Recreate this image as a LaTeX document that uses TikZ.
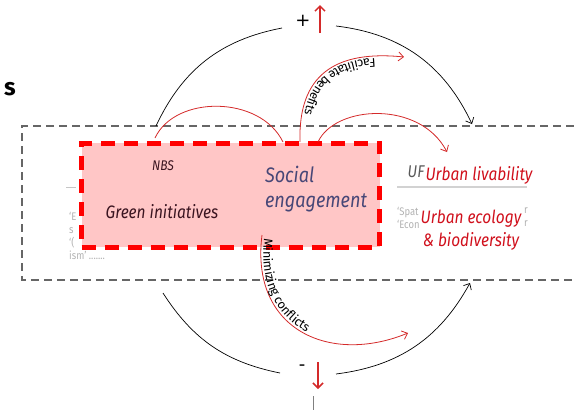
\documentclass[tikz,border=0pt]{standalone}
\usepackage{fontspec}
\setmainfont{Fira Sans}
\newfontfamily\slidefont[FakeStretch=0.86]{Fira Sans}
\newfontfamily\signfont{DejaVu Sans}
\usepackage{tikz}
\usetikzlibrary{arrows.meta,decorations.text}
\definecolor{boxred}{HTML}{FF0000}
\definecolor{boxpink}{HTML}{FFC6C6}
\definecolor{linkred}{HTML}{D42A2A}
\definecolor{outred}{HTML}{D0101C}
\definecolor{engblue}{HTML}{474777}
\definecolor{inidark}{HTML}{3A1420}
\definecolor{framegray}{HTML}{666666}
\newcommand{\linkfont}{\fontsize{12.5}{14}\selectfont}

\begin{document}
\begin{tikzpicture}[
    x=1pt, y=-1pt,
    frame/.style={draw=framegray, line width=1.8pt, dash pattern=on 8pt off 5pt},
    inibox/.style={rectangle, minimum width=298pt, minimum height=104pt, inner sep=0pt, fill=boxpink, draw=boxred, line width=5pt, dash pattern=on 14pt off 9pt},
    initxt/.style={text=inidark, font=\slidefont\itshape\fontsize{18}{20}\selectfont},
    engtxt/.style={text=engblue, align=left, font=\slidefont\itshape\fontsize{21}{25}\selectfont},
    outtxt/.style={text=outred, align=center, font=\slidefont\itshape\fontsize{18}{23}\selectfont},
    faint/.style={text=gray!60, align=left, inner sep=0pt, font=\slidefont\fontsize{11}{13}\selectfont},
    signtxt/.style={font=\signfont\fontsize{18}{18}\selectfont},
    cycline/.style={draw=black, line width=0.7pt},
    cycarrow/.style={cycline, -{Straight Barb[length=5pt,width=9pt]}},
    linkline/.style={draw=linkred, line width=0.8pt},
    linkarrow/.style={linkline, -{Straight Barb[length=5pt,width=9pt]}},
    signarrow/.style={draw=linkred, line width=1.5pt, -{Straight Barb[length=5pt,width=10pt]}}
]
\useasboundingbox (0,0) rectangle (574,410);

\node (cut) [font=\bfseries\fontsize{24}{24}\selectfont] at (10,89) {s};

\draw[frame] (574,126) -- (22,126) -- (22,280) -- (574,280);

\node (leftgray) [faint, anchor=north west] at (69,212) {‘E\\s\\‘(\\ism’ .......};
\draw[gray!45, line width=1pt] (66,187) -- (76,187);
\node (spat) [faint, anchor=north west] at (397,207) {‘Spat\\‘Econ};
\node (spatr) [faint, anchor=north west] at (524,207) {r\\r};
\draw[gray!35, line width=1.5pt] (397,187) -- (527,187);
\node (uf) [text=gray!70!black, font=\slidefont\itshape\fontsize{17}{17}\selectfont] at (416,172) {UF};

\node (ini) [inibox] at (230.5,195) {};
\node (nbs) [initxt, font=\slidefont\itshape\fontsize{14}{14}\selectfont] at (163,166) {NBS};
\node (green) [initxt] at (162,212) {Green initiatives};
\node (social) [engtxt] at (316,189) {Social\\engagement};

\node (liv) [outtxt] at (479,175) {Urban livability};
\node (eco) [outtxt] at (471,230) {Urban ecology\\\& biodiversity};

\node (plus) [signtxt] at (303,21) {+};
\node (minus) [signtxt] at (302,368) {-};
\coordinate (upfoot) at (320,33);
\coordinate (uphead) at (320,5);
\coordinate (downfoot) at (318,362);
\coordinate (downhead) at (318,389);
\draw[signarrow] (upfoot) -- (uphead);
\draw[signarrow] (downfoot) -- (downhead);

\coordinate (topL) at (156,126);
\coordinate (plusL) at (282,28);
\coordinate (plusR) at (336,26);
\coordinate (topR) at (472,124);
\coordinate (botL) at (163,293);
\coordinate (minusL) at (280,373);
\coordinate (minusR) at (336,374);
\coordinate (botR) at (470,283);
\draw[cycline] (topL) to[bend left=27] (plusL);
\draw[cycarrow] (plusR) to[bend left=29] (topR);
\draw[cycline] (botL) to[bend right=23] (minusL);
\draw[cycarrow] (minusR) to[bend right=27] (botR);

\coordinate (nbsS) at (155,138);
\coordinate (nbsE) at (283,142);
\coordinate (fbS) at (300,142);
\coordinate (fbE) at (404,57);
\coordinate (ueS) at (318,142);
\coordinate (ueE) at (447,152);
\coordinate (mcS) at (262,235);
\coordinate (mcE) at (408,333);
\draw[linkline] (nbsS) .. controls +(20,-43) and +(-23,-47) .. (nbsE);
\draw[linkarrow] (fbS) .. controls +(-2,-67) and +(-69,-7) .. (fbE);
\draw[linkarrow] (ueS) .. controls +(17,-37) and +(-27,-52) .. (ueE);
\draw[linkarrow] (mcS) .. controls +(-12,95) and +(-78,32) .. (mcE);
\path[decorate, decoration={text along path, raise=2.5pt, text align=center,
    text={|\linkfont|Facilitate benefits}}]
    (fbE) .. controls +(-69,-7) and +(-2,-67) .. (fbS);
\path[decorate, decoration={text along path, raise=2.5pt, text align={left indent=3pt},
    text={|\linkfont|Minimizing conflicts}}]
    (mcS) .. controls +(-12,95) and +(-78,32) .. (mcE);

\draw[gray, line width=0.8pt] (313,396) -- (313,410);
\end{tikzpicture}
\end{document}
